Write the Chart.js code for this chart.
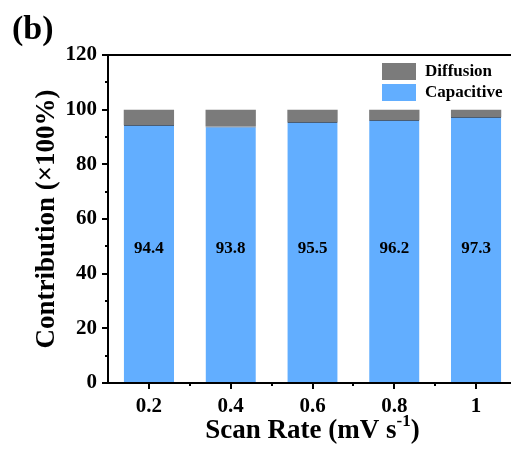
<!DOCTYPE html>
<html>
<head>
<meta charset="utf-8">
<script src="https://cdn.jsdelivr.net/npm/chart.js@4"></script>
<style>
  html, body { margin: 0; padding: 0; background: #fff; overflow: hidden; }
  #wrap { width: 511px; height: 450px; overflow: hidden; }
</style>
</head>
<body>
<div id="wrap"><canvas id="chart" width="527" height="450"></canvas></div>
<script>
const scanRates = ['0.2', '0.4', '0.6', '0.8', '1'];
const capacitive = [94.4, 93.8, 95.5, 96.2, 97.3];
const diffusion = [5.6, 6.2, 4.5, 3.8, 2.7];
const yTicks = [0, 20, 40, 60, 80, 100, 120];

const FONT = '"Liberation Serif", "Times New Roman", serif';
const BLUE = '#62aeff';
const GRAY = '#7b7b7b';

// axis frame, tick marks, bar labels, legend and titles
const decor = {
  id: 'decor',
  afterDraw(chart) {
    const ctx = chart.ctx;
    const a = chart.chartArea;
    const x = chart.scales.x;
    const y = chart.scales.y;
    ctx.save();
    ctx.strokeStyle = '#000';
    ctx.lineWidth = 2;
    ctx.beginPath();
    ctx.moveTo(a.left, a.top); ctx.lineTo(a.right, a.top);
    ctx.moveTo(a.left, a.top - 1); ctx.lineTo(a.left, a.bottom + 1);
    ctx.moveTo(a.left - 1, a.bottom); ctx.lineTo(a.right, a.bottom);
    ctx.moveTo(a.right, a.top); ctx.lineTo(a.right, a.bottom);
    ctx.stroke();

    // y ticks, major every 20, minor in between
    for (let v = 0; v <= 120; v += 10) {
      const py = Math.round(y.getPixelForValue(v));
      const len = v % 20 === 0 ? 6 : 3;
      ctx.beginPath();
      ctx.moveTo(a.left, py); ctx.lineTo(a.left - len, py);
      ctx.stroke();
    }
    // x ticks at categories, minor between
    scanRates.forEach((c, i) => {
      const px = Math.round(x.getPixelForValue(i));
      ctx.beginPath();
      ctx.moveTo(px, a.bottom); ctx.lineTo(px, a.bottom + 6);
      ctx.stroke();
      if (i < scanRates.length - 1) {
        const mx = Math.round((x.getPixelForValue(i) + x.getPixelForValue(i + 1)) / 2);
        ctx.beginPath();
        ctx.moveTo(mx, a.bottom); ctx.lineTo(mx, a.bottom + 3);
        ctx.stroke();
      }
    });

    // values inside bars
    ctx.fillStyle = '#000';
    ctx.font = 'bold 17px ' + FONT;
    ctx.textAlign = 'center';
    ctx.textBaseline = 'middle';
    capacitive.forEach((v, i) => {
      ctx.fillText(v.toFixed(1), x.getPixelForValue(i), y.getPixelForValue(49));
    });

    // legend
    const items = [['Diffusion', GRAY], ['Capacitive', BLUE]];
    ctx.font = 'bold 17px ' + FONT;
    ctx.textAlign = 'left';
    items.forEach((it, i) => {
      const top = 63 + i * 21;
      ctx.fillStyle = it[1];
      ctx.fillRect(382, top, 34, 17);
      ctx.fillStyle = '#000';
      ctx.fillText(it[0], 425, top + 9);
    });

    // panel label
    ctx.font = 'bold 34px ' + FONT;
    ctx.textBaseline = 'alphabetic';
    ctx.fillText('(b)', 12, 39);

    // y title
    ctx.font = 'bold 27px ' + FONT;
    ctx.textAlign = 'center';
    ctx.textBaseline = 'middle';
    ctx.save();
    ctx.translate(47, (a.top + a.bottom) / 2);
    ctx.rotate(-Math.PI / 2);
    ctx.fillText('Contribution (\u00d7100%)', 0, 0);
    ctx.restore();

    // x title with superscript
    const main = 'Scan Rate (mV s';
    const sup = '-1';
    const tail = ')';
    ctx.font = 'bold 27px ' + FONT;
    const w1 = ctx.measureText(main).width;
    const w3 = ctx.measureText(tail).width;
    ctx.font = 'bold 17px ' + FONT;
    const w2 = ctx.measureText(sup).width;
    const cx = (a.left + a.right) / 2;
    const sx = cx - (w1 + w2 + w3) / 2;
    const base = 438;
    ctx.textAlign = 'left';
    ctx.textBaseline = 'alphabetic';
    ctx.font = 'bold 27px ' + FONT;
    ctx.fillText(main, sx, base);
    ctx.font = 'bold 17px ' + FONT;
    ctx.fillText(sup, sx + w1, base - 12);
    ctx.font = 'bold 27px ' + FONT;
    ctx.fillText(tail, sx + w1 + w2, base);
    ctx.restore();
  }
};

new Chart(document.getElementById('chart'), {
  type: 'bar',
  data: {
    labels: scanRates,
    datasets: [
      {
        label: 'Capacitive',
        data: capacitive,
        backgroundColor: BLUE,
        borderColor: '#4a5d73',
        borderWidth: { top: 1, left: 0, right: 0, bottom: 0 },
        borderSkipped: false,
        categoryPercentage: 1,
        barPercentage: 0.615
      },
      {
        label: 'Diffusion',
        data: diffusion,
        backgroundColor: GRAY,
        borderWidth: 0,
        categoryPercentage: 1,
        barPercentage: 0.615
      }
    ]
  },
  options: {
    responsive: false,
    animation: false,
    layout: { padding: { top: 55, right: 10, bottom: 0, left: 0 } },
    plugins: { legend: { display: false }, tooltip: { enabled: false } },
    scales: {
      x: {
        stacked: true,
        grid: { display: false, drawTicks: false },
        border: { display: false },
        ticks: { color: '#000', font: { family: FONT, size: 21, weight: 'bold' }, padding: 11, maxRotation: 0 },
        afterFit(s) { s.height = 67; }
      },
      y: {
        stacked: true,
        min: 0,
        max: 120,
        afterBuildTicks(s) { s.ticks = yTicks.map(v => ({ value: v })); },
        grid: { display: false, drawTicks: false },
        border: { display: false },
        ticks: { color: '#000', font: { family: FONT, size: 21, weight: 'bold' }, padding: 11 },
        afterFit(s) { s.width = 108; }
      }
    }
  },
  plugins: [decor]
});
</script>
</body>
</html>
